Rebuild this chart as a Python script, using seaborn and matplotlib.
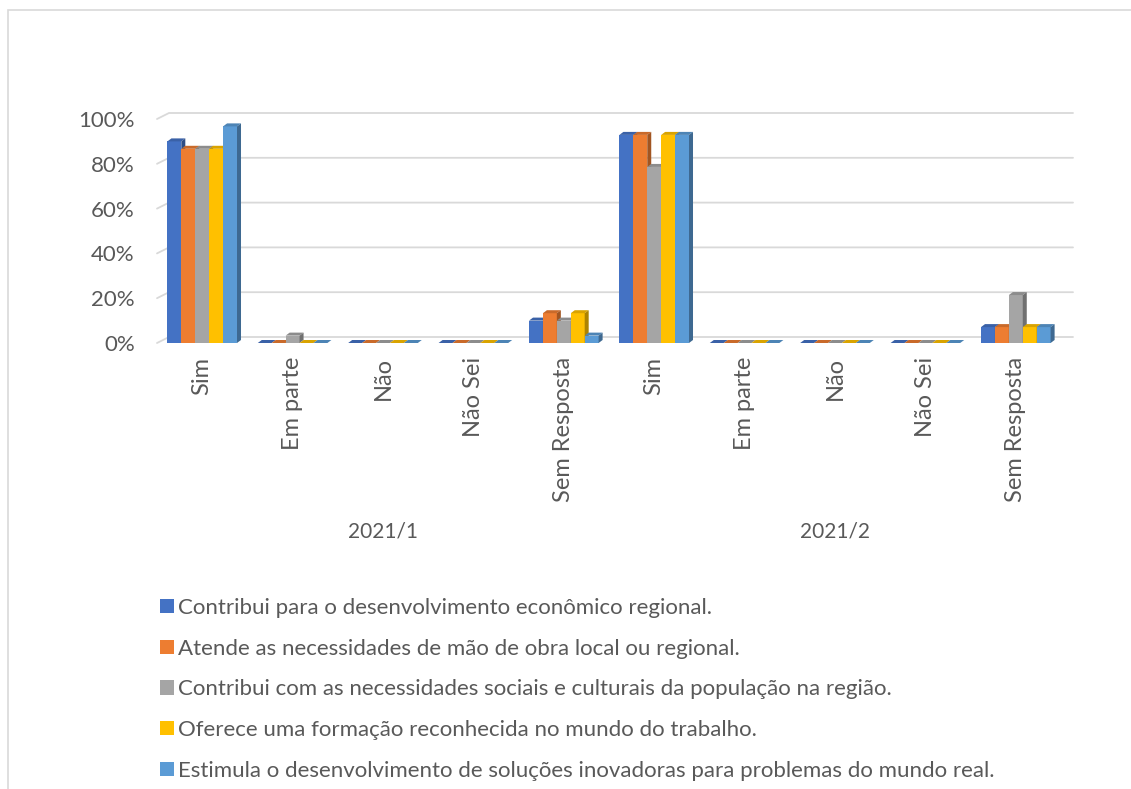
import numpy as np
import pandas as pd
import matplotlib
matplotlib.use("Agg")
import matplotlib.pyplot as plt
from matplotlib.patches import Patch, Polygon, Rectangle
import matplotlib.colors as mcolors
import matplotlib.transforms as mtrans
import seaborn as sns

# ---------------- data ----------------
periods = ["2021/1", "2021/2"]
answers = ["Sim", "Em parte", "Não", "Não Sei", "Sem Resposta"]
series_names = [
    "Contribui para o desenvolvimento econômico regional.",
    "Atende as necessidades de mão de obra local ou regional.",
    "Contribui com as necessidades sociais e culturais da população na região.",
    "Oferece uma formação reconhecida no mundo do trabalho.",
    "Estimula o desenvolvimento de soluções inovadoras para problemas do mundo real.",
]
# values per series, order: 2021/1 (Sim, Em parte, Não, Não Sei, Sem Resposta), 2021/2 (same)
s_economico = [0.900, 0.0, 0.0, 0.0, 0.100, 0.929, 0.0, 0.0, 0.0, 0.071]
s_mao_obra = [0.867, 0.0, 0.0, 0.0, 0.133, 0.929, 0.0, 0.0, 0.0, 0.071]
s_social = [0.867, 0.033, 0.0, 0.0, 0.100, 0.786, 0.0, 0.0, 0.0, 0.214]
s_formacao = [0.867, 0.0, 0.0, 0.0, 0.133, 0.929, 0.0, 0.0, 0.0, 0.071]
s_inovacao = [0.967, 0.0, 0.0, 0.0, 0.033, 0.929, 0.0, 0.0, 0.0, 0.071]
series_values = [s_economico, s_mao_obra, s_social, s_formacao, s_inovacao]
colors = ["#4472C4", "#ED7D31", "#A5A5A5", "#FFC000", "#5B9BD5"]
yticks = [0, 0.2, 0.4, 0.6, 0.8, 1.0]
ytick_labels = ["0%", "20%", "40%", "60%", "80%", "100%"]

keys = [f"{p}|{a}" for p in periods for a in answers]
rows = []
for name, vals in zip(series_names, series_values):
    for k, v in zip(keys, vals):
        rows.append({"cat": k, "serie": name, "valor": v})
df = pd.DataFrame(rows)

# ---------------- figure ----------------
sns.set_theme(style="white")
plt.rcParams["font.family"] = ["Lato", "DejaVu Sans"]
TXT = "#595959"

W, H = 1131, 789
fig = plt.figure(figsize=(W / 100, H / 100), dpi=100)

# outer chart border (top and left visible)
fig.patches.append(Rectangle((8 / W, -0.5), 2.0, 1.5 - 10 / H, transform=fig.transFigure,
                             fill=False, edgecolor="#D9D9D9", linewidth=1.2))

ax_l, ax_r, ax_t, ax_b = 157, 1061, 119, 343
ax = fig.add_axes([ax_l / W, 1 - ax_b / H, (ax_r - ax_l) / W, (ax_b - ax_t) / H])

sns.barplot(data=df, x="cat", y="valor", hue="serie", order=keys,
            hue_order=series_names, palette=colors, width=0.77,
            saturation=1, ax=ax, legend=False, linewidth=0)

ax.set_xlim(-0.5, len(keys) - 0.5)
ax.set_ylim(0, 1)
for s in ax.spines.values():
    s.set_visible(False)
ax.set_xlabel("")
ax.set_ylabel("")

px_x = (ax_r - ax_l) / len(keys)   # px per x unit
px_y = (ax_b - ax_t) / 1.0         # px per y unit

# back-wall gridlines with 3D slant
gdx, gdy = 12 / px_x, 6 / px_y
for v in yticks:
    ax.plot([-0.5, -0.5 + gdx, len(keys) - 0.5 + gdx], [v, v + gdy, v + gdy],
            color="#D9D9D9", linewidth=1.3, zorder=0.5, clip_on=False)

# 3D faces for bars
ddx, ddy = 4 / px_x, 3 / px_y
for k, cont in enumerate(ax.containers):
    base = mcolors.to_rgb(colors[k])
    side_c = tuple(c * 0.68 for c in base)
    top_c = tuple(c * 0.85 for c in base)
    z = 2 + k * 0.1
    for p in cont:
        p.set_zorder(z)
        x0, w, h = p.get_x(), p.get_width(), p.get_height()
        top = Polygon([(x0, h), (x0 + w, h), (x0 + w + ddx, h + ddy), (x0 + ddx, h + ddy)],
                      closed=True, facecolor=top_c, edgecolor="none", zorder=z, clip_on=False)
        side = Polygon([(x0 + w, 0), (x0 + w + ddx, ddy), (x0 + w + ddx, h + ddy), (x0 + w, h)],
                       closed=True, facecolor=side_c, edgecolor="none", zorder=z, clip_on=False)
        ax.add_patch(top)
        ax.add_patch(side)

# y ticks
ax.set_yticks(yticks)
ax.set_yticklabels(ytick_labels)
ax.tick_params(axis="y", length=0, pad=16, labelsize=16, labelcolor=TXT)

# x ticks
ax.set_xticks(range(len(keys)))
ax.set_xticklabels([k.split("|")[1] for k in keys])
ax.tick_params(axis="x", length=0, pad=10, labelsize=17, labelcolor=TXT, labelrotation=90)
for t in ax.get_xticklabels():
    t.set_va("top")
    t.set_ha("center")

# period labels
blend = mtrans.blended_transform_factory(ax.transData, fig.transFigure)
for i, p in enumerate(periods):
    xc = i * len(answers) + (len(answers) - 1) / 2
    ax.text(xc, 1 - 531 / H, p, transform=blend, ha="center", va="center",
            fontsize=15, color=TXT)

# legend
handles = [Patch(facecolor=c, edgecolor="none") for c in colors]
fig.legend(handles, series_names, loc="upper left", bbox_to_anchor=(160 / W, 1 - 598 / H),
           frameon=False, fontsize=16, labelcolor=TXT, handlelength=0.63, handleheight=0.63,
           handletextpad=0.2, labelspacing=0.93, borderaxespad=0, borderpad=0)

fig.savefig("out.png", dpi=100, facecolor="white")
